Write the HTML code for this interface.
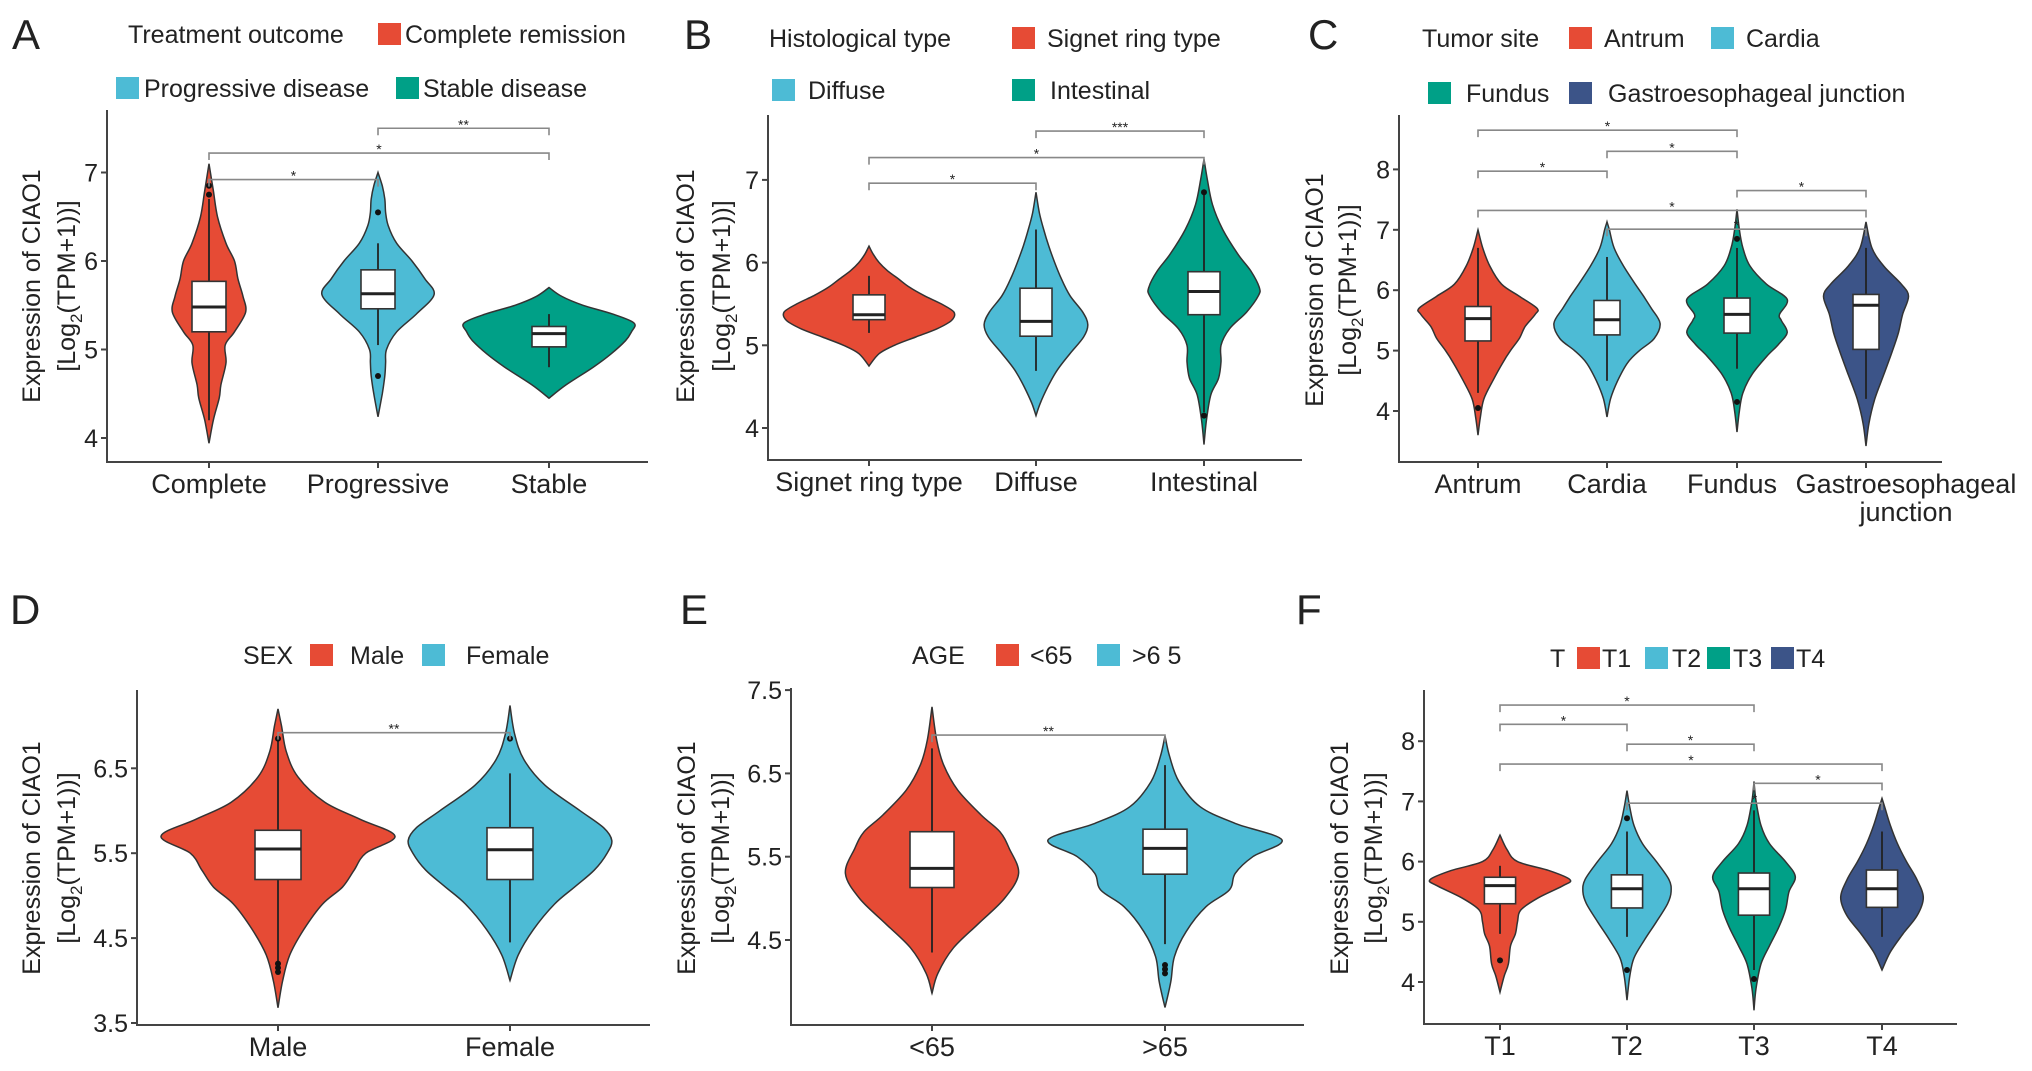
<!DOCTYPE html>
<html><head><meta charset="utf-8"><style>
html,body{margin:0;padding:0;background:#fff}
svg{display:block}
text{font-family:"Liberation Sans",Arial,sans-serif;fill:#222}
</style></head><body>
<svg id="fig" width="2032" height="1071" viewBox="0 0 2032 1071" xmlns="http://www.w3.org/2000/svg"></svg>
<script>
// ---------- DATA ----------
const aCats=["Complete","Progressive","Stable"];
const aTicks=[4,5,6,7];
const aVY=[[3.94,4.2,4.45,4.6,4.85,5.05,5.2,5.42,5.6,5.8,6.0,6.2,6.5,6.8,7.1],[4.24,4.5,4.7,4.85,5.0,5.2,5.4,5.62,5.8,6.0,6.2,6.4,6.55,6.7,6.85,7.0],[4.45,4.6,4.8,4.95,5.1,5.2,5.3,5.4,5.5,5.6,5.7]];
const aVD=[[0,.05,.12,.14,.2,.19,.3,.43,.4,.34,.3,.2,.1,.05,0],[0,.05,.08,.09,.1,.22,.45,.66,.55,.4,.22,.12,.09,.08,.05,0],[0,.2,.52,.73,.9,.97,1.0,.75,.4,.15,0]];
const aBox=[[5.2,5.48,5.77,4.2,6.7],[5.46,5.63,5.9,5.05,6.2],[5.03,5.18,5.26,4.8,5.4]];
const aOut=[[6.75,6.85],[6.55,4.7],[]];
const aSig=[[1,2,7.5,"**"],[0,2,7.22,"*"],[0,1,6.92,"*"]];

const bCats=["Signet ring type","Diffuse","Intestinal"];
const bTicks=[4,5,6,7];
const bVY=[[4.75,4.9,5.0,5.1,5.2,5.3,5.4,5.5,5.6,5.7,5.8,5.9,6.0,6.1,6.2],[4.15,4.3,4.5,4.7,4.9,5.1,5.25,5.4,5.6,5.8,6.0,6.2,6.4,6.6,6.85],[3.8,4.1,4.4,4.6,4.8,5.0,5.2,5.4,5.6,5.7,5.9,6.1,6.4,6.7,7.0,7.25]];
const bVD=[[0,.12,.3,.55,.8,.97,1.0,.85,.65,.48,.35,.22,.12,.05,0],[0,.05,.14,.25,.4,.56,.61,.55,.4,.3,.22,.15,.09,.04,0],[0,.03,.08,.17,.2,.2,.3,.5,.64,.65,.55,.4,.22,.1,.04,0]];
const bBox=[[5.31,5.37,5.61,5.15,5.84],[5.11,5.29,5.69,4.69,6.4],[5.37,5.65,5.89,4.19,6.84]];
const bOut=[[],[],[6.85,4.15]];
const bSig=[[1,2,7.59,"***"],[0,2,7.27,"*"],[0,1,6.96,"*"]];

const cCats=["Antrum","Cardia","Fundus","Gastroesophageal"];
const cTicks=[4,5,6,7,8];
const cVY=[[3.6,3.9,4.2,4.5,4.8,5.0,5.2,5.4,5.6,5.7,5.9,6.1,6.4,6.7,7.0],[3.9,4.2,4.5,4.8,5.0,5.2,5.45,5.7,5.9,6.1,6.4,6.7,7.0,7.13],[3.65,4.0,4.3,4.6,4.9,5.1,5.3,5.5,5.6,5.85,6.1,6.4,6.7,7.0,7.34],[3.42,3.8,4.2,4.6,5.0,5.3,5.6,5.9,6.1,6.4,6.7,7.13]];
const cVD=[[0,.04,.1,.25,.42,.55,.7,.8,.97,1.0,.7,.4,.2,.08,0],[0,.06,.18,.35,.55,.8,.9,.75,.62,.48,.28,.12,.04,0],[0,.04,.1,.25,.5,.7,.85,.75,.72,.85,.5,.22,.1,.04,0],[0,.05,.15,.3,.45,.55,.62,.72,.6,.3,.1,0]];
const cBox=[[5.16,5.53,5.73,4.3,6.7],[5.26,5.51,5.83,4.5,6.55],[5.29,5.6,5.87,4.7,6.7],[5.02,5.75,5.93,4.2,6.7]];
const cOut=[[4.05],[],[6.85,4.15],[]];
const cSig=[[0,2,8.65,"*"],[1,2,8.3,"*"],[0,1,7.97,"*"],[2,3,7.65,"*"],[0,3,7.32,"*"],[1,3,7.01,"*"]];

const dCats=["Male","Female"];
const dTicks=[3.5,4.5,5.5,6.5];
const dVY=[[3.68,4.0,4.3,4.6,4.9,5.1,5.3,5.5,5.7,5.9,6.1,6.4,6.7,7.0,7.2],[4.0,4.3,4.6,4.9,5.1,5.3,5.5,5.65,5.8,6.0,6.3,6.6,6.9,7.24]];
const dVD=[[0,.04,.1,.22,.38,.55,.65,.75,1.0,.7,.4,.17,.07,.03,0],[0,.07,.2,.38,.55,.72,.83,.87,.8,.6,.3,.12,.04,0]];
const dBox=[[5.19,5.55,5.77,4.15,6.85],[5.19,5.54,5.8,4.45,6.44]];
const dOut=[[4.1,4.15,4.2,6.85],[6.85]];
const dSig=[[0,1,6.92,"**"]];

const eCats=["<65",">65"];
const eTicks=[4.5,5.5,6.5,7.5];
const eVY=[[3.86,4.1,4.4,4.7,5.0,5.3,5.6,5.8,6.0,6.3,6.6,6.9,7.3],[3.69,4.0,4.3,4.6,4.9,5.1,5.3,5.5,5.7,5.9,6.1,6.4,6.7,6.95]];
const eVD=[[0,.05,.18,.4,.62,.74,.66,.58,.42,.22,.1,.04,0],[0,.05,.08,.18,.35,.55,.6,.75,1.0,.6,.3,.12,.04,0]];
const eBox=[[5.13,5.36,5.8,4.35,6.8],[5.29,5.6,5.83,4.45,6.6]];
const eOut=[[],[4.2,4.15,4.1]];
const eSig=[[0,1,6.96,"**"]];

const fCats=["T1","T2","T3","T4"];
const fTicks=[4,5,6,7,8];
const fVY=[[3.83,4.1,4.3,4.6,4.8,5.0,5.2,5.4,5.6,5.7,5.85,6.0,6.2,6.44],[3.7,4.1,4.4,4.7,5.0,5.3,5.5,5.7,6.0,6.3,6.6,6.9,7.18],[3.53,3.9,4.3,4.6,4.9,5.2,5.5,5.75,6.0,6.3,6.6,7.0,7.33],[4.2,4.5,4.8,5.1,5.4,5.7,6.0,6.3,6.6,6.9,7.05]];
const fVD=[[0,.06,.12,.15,.22,.25,.3,.55,.9,1.0,.7,.25,.1,0],[0,.04,.1,.25,.42,.58,.63,.6,.42,.22,.1,.04,0],[0,.03,.1,.22,.35,.45,.5,.59,.45,.22,.1,.03,0],[0,.12,.3,.5,.59,.5,.35,.22,.12,.04,0]];
const fBox=[[5.3,5.6,5.74,4.8,5.93],[5.23,5.55,5.78,4.75,6.5],[5.11,5.55,5.81,4.2,6.85],[5.24,5.55,5.86,4.75,6.5]];
const fOut=[[4.36],[6.72,4.2],[4.05],[]];
const fSig=[[0,2,8.6,"*"],[0,1,8.28,"*"],[1,2,7.95,"*"],[0,3,7.62,"*"],[2,3,7.3,"*"],[1,3,6.97,"*"]];

// ---------- RENDER ----------
const NS="http://www.w3.org/2000/svg";
const svg=document.getElementById('fig');
const COL=["#E64B35","#4DBBD5","#00A087","#3C5488"];
function mk(tag,attrs,parent){const e=document.createElementNS(NS,tag);for(const k in attrs)e.setAttribute(k,attrs[k]);(parent||svg).appendChild(e);return e;}
function txt(s,x,y,size,anchor,parent){const t=mk('text',{x:x,y:y,'font-size':size,'text-anchor':anchor||'start'},parent);t.textContent=s;return t;}
function smooth(pts){let d="M"+pts[0][0].toFixed(1)+","+pts[0][1].toFixed(1);for(let i=0;i<pts.length-1;i++){const p0=pts[Math.max(0,i-1)],p1=pts[i],p2=pts[i+1],p3=pts[Math.min(pts.length-1,i+2)];const c1=[p1[0]+(p2[0]-p0[0])/6,p1[1]+(p2[1]-p0[1])/6],c2=[p2[0]-(p3[0]-p1[0])/6,p2[1]-(p3[1]-p1[1])/6];d+="C"+c1[0].toFixed(1)+","+c1[1].toFixed(1)+" "+c2[0].toFixed(1)+","+c2[1].toFixed(1)+" "+p2[0].toFixed(1)+","+p2[1].toFixed(1);}return d;}

function panel(P){
  const g=mk('g',{});
  
  
  const y=v=>P.y0-(v-P.v0)*P.k;
  const x=i=>P.cx[i];
  const L=txt(P.letter,P.lx,P.ly,42,'start',g);
  
  
  const lg=mk('g',{},g);
  
  
  P.legend.forEach(it=>{
    if(it.c!==undefined){const r=mk('rect',{x:it.x,y:it.y-11,width:23,height:22,fill:COL[it.c]},lg);
      
      }
    else{const t=txt(it.t,it.x,it.y+9,25,'start',lg);
      
      }
  });
  const ax=mk('path',{d:`M${P.axL},${P.top}V${P.bot}H${P.axR}`,fill:'none',stroke:'#444','stroke-width':2},g);
  
  
  P.ticks.forEach(v=>{
    mk('line',{x1:P.axL-6,x2:P.axL,y1:y(v),y2:y(v),stroke:'#444','stroke-width':2},g);
    const t=txt(String(v),P.axL-9,y(v)+9,25,'end',g);
    
    
  });
  P.cats.forEach((c,i)=>{
    mk('line',{x1:x(i),x2:x(i),y1:P.bot,y2:P.bot+6,stroke:'#444','stroke-width':2},g);
    const lx=(P.labelShift&&P.labelShift[i])?x(i)+P.labelShift[i]:x(i);
    const t=txt(c,lx,P.bot+31,27,'middle',g);
    
    
  });
  if(P.extra){const i=P.extra[1];const lx=(P.labelShift&&P.labelShift[i])?x(i)+P.labelShift[i]:x(i);
    const t=txt(P.extra[0],lx,P.bot+59,27,'middle',g);
    
    }
  const yt=mk('text',{transform:`translate(${P.t1},${P.tc}) rotate(-90)`,'font-size':25,'text-anchor':'middle'},g);
  yt.textContent="Expression of CIAO1";
  
  
  const yt2=mk('text',{transform:`translate(${P.t2},${P.tc}) rotate(-90)`,'font-size':25,'text-anchor':'middle'},g);
  yt2.innerHTML='[Log<tspan font-size="17" dy="7">2</tspan><tspan dy="-7">(TPM+1))]</tspan>';
  
  
  P.vy.forEach((ys,i)=>{
    const ds=P.vd[i];const cx=x(i);
    const right=ys.map((v,j)=>[cx+ds[j]*P.scale,y(v)]);
    const left=ys.map((v,j)=>[cx-ds[j]*P.scale,y(v)]).reverse();
    const p=mk('path',{d:smooth(right)+" L"+smooth(left).slice(1)+"Z",fill:COL[i],stroke:'#333','stroke-width':1.5},g);
    
    
    const b=P.box[i];const bw=P.bw;
    const wl=mk('line',{x1:cx,x2:cx,y1:y(b[4]),y2:y(b[3]),stroke:'#222','stroke-width':1.8},g);
    
    
    const r=mk('rect',{x:cx-bw,y:y(b[2]),width:2*bw,height:y(b[0])-y(b[2]),fill:'#fff',stroke:'#333','stroke-width':1.6},g);
    
    
    const m=mk('line',{x1:cx-bw,x2:cx+bw,y1:y(b[1]),y2:y(b[1]),stroke:'#222','stroke-width':3},g);
    
    
    P.out[i].forEach(v=>{const o=mk('circle',{cx:cx,cy:y(v),r:3,fill:'#111'},g);
      
      });
  });
  P.sig.forEach(s=>{
    const x1=x(s[0]),x2=x(s[1]),yy=y(s[2]);
    const br=mk('path',{d:`M${x1},${yy+7}V${yy}H${x2}V${yy+7}`,fill:'none',stroke:'#888','stroke-width':1.6},g);
    
    
    const t=txt(s[3],(x1+x2)/2,yy+1,14,'middle',g);
    t.setAttribute('fill','#555');
    
    
  });
}

panel({id:'a',letter:'A',lx:12,ly:49,cats:aCats,ticks:aTicks,vy:aVY,vd:aVD,box:aBox,out:aOut,sig:aSig,
  axL:107,axR:648,top:110,bot:462,v0:4,y0:438,k:88.5,cx:[209,378,549],scale:85,bw:17,t1:40,t2:75,tc:286,
  legend:[{t:'Treatment outcome',x:128,y:34},{c:0,x:378,y:34},{t:'Complete remission',x:405,y:34},
          {c:1,x:116,y:88},{t:'Progressive disease',x:144,y:88},{c:2,x:396,y:88},{t:'Stable disease',x:423,y:88}]});
panel({id:'b',letter:'B',lx:684,ly:49,cats:bCats,ticks:bTicks,vy:bVY,vd:bVD,box:bBox,out:bOut,sig:bSig,
  axL:768,axR:1302,top:115,bot:460,v0:4,y0:428,k:82.7,cx:[869,1036,1204],scale:85,bw:16,t1:694,t2:730,tc:286,
  legend:[{t:'Histological type',x:769,y:38},{c:0,x:1012,y:38},{t:'Signet ring type',x:1047,y:38},
          {c:1,x:772,y:90},{t:'Diffuse',x:808,y:90},{c:2,x:1012,y:90},{t:'Intestinal',x:1050,y:90}]});
panel({id:'c',letter:'C',lx:1308,ly:49,cats:cCats,ticks:cTicks,vy:cVY,vd:cVD,box:cBox,out:cOut,sig:cSig,extra:['junction',3],labelShift:[0,0,-5,40],
  axL:1399,axR:1942,top:115,bot:462,v0:4,y0:411,k:60.4,cx:[1478,1607,1737,1866],scale:59,bw:13,t1:1323,t2:1356,tc:290,
  legend:[{t:'Tumor site',x:1422,y:38},{c:0,x:1569,y:38},{t:'Antrum',x:1604,y:38},{c:1,x:1711,y:38},{t:'Cardia',x:1746,y:38},
          {c:2,x:1428,y:93},{t:'Fundus',x:1466,y:93},{c:3,x:1569,y:93},{t:'Gastroesophageal junction',x:1608,y:93}]});
panel({id:'d',letter:'D',lx:10,ly:624,cats:dCats,ticks:dTicks,vy:dVY,vd:dVD,box:dBox,out:dOut,sig:dSig,
  axL:137,axR:650,top:690,bot:1025,v0:3.5,y0:1023,k:84.9,cx:[278,510],scale:117,bw:23,t1:40,t2:75,tc:858,
  legend:[{t:'SEX',x:243,y:655},{c:0,x:310,y:655},{t:'Male',x:350,y:655},{c:1,x:422,y:655},{t:'Female',x:466,y:655}]});
panel({id:'e',letter:'E',lx:680,ly:624,cats:eCats,ticks:eTicks,vy:eVY,vd:eVD,box:eBox,out:eOut,sig:eSig,
  axL:791,axR:1304,top:688,bot:1025,v0:4.5,y0:940,k:83.3,cx:[932,1165],scale:117,bw:22,t1:695,t2:729,tc:858,
  legend:[{t:'AGE',x:912,y:655},{c:0,x:996,y:655},{t:'<65',x:1030,y:655},{c:1,x:1097,y:655},{t:'>6 5',x:1132,y:655}]});
panel({id:'f',letter:'F',lx:1296,ly:624,cats:fCats,ticks:fTicks,vy:fVY,vd:fVD,box:fBox,out:fOut,sig:fSig,
  axL:1424,axR:1957,top:690,bot:1024,v0:4,y0:982,k:60.2,cx:[1500,1627,1754,1882],scale:70,bw:15.6,t1:1348,t2:1382,tc:858,
  legend:[{t:'T',x:1550,y:658},{c:0,x:1577,y:658},{t:'T1',x:1602,y:658},{c:1,x:1645,y:658},{t:'T2',x:1672,y:658},
          {c:2,x:1707,y:658},{t:'T3',x:1733,y:658},{c:3,x:1771,y:658},{t:'T4',x:1796,y:658}]});
</script>
</body></html>
